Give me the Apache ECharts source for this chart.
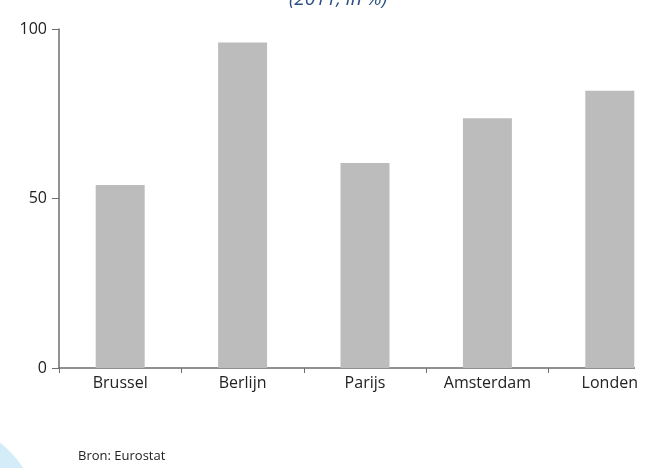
<!DOCTYPE html>
<html>
<head>
<meta charset="utf-8">
<script src="https://cdn.jsdelivr.net/npm/echarts@6/dist/echarts.min.js"></script>
<style>
html, body { margin: 0; padding: 0; background: #fff; }
#main { width: 647px; height: 468px; }
</style>
</head>
<body>
<div id="main"></div>
<script>
var steden = ['Brussel', 'Berlijn', 'Parijs', 'Amsterdam', 'Londen'];
var waarden = [54, 96, 60.5, 73.7, 81.8];
var yTicks = [0, 50, 100];

var dom = document.getElementById('main');
var myChart = echarts.init(dom);
var font = '"Open Sans", "Noto Sans", sans-serif';

var option = {
	backgroundColor: '#fff',
	animation: false,
	grid: { left: 59, top: 29, width: 612, height: 339, outerBoundsMode: 'none', containLabel: false },
	xAxis: {
		type: 'category',
		data: steden,
		boundaryGap: true,
		axisLine: { lineStyle: { color: '#6e6e6e', width: 1.5 } },
		axisTick: { show: true, length: 5, inside: false, lineStyle: { color: '#6e6e6e' } },
		axisLabel: { color: '#222', fontFamily: font, fontSize: 16, margin: 7 }
	},
	yAxis: {
		type: 'value',
		min: yTicks[0],
		max: yTicks[yTicks.length - 1],
		interval: yTicks[1] - yTicks[0],
		splitLine: { show: false },
		axisLine: { show: true, lineStyle: { color: '#6e6e6e', width: 1.5 } },
		axisTick: { show: true, length: 7, lineStyle: { color: '#6e6e6e' } },
		axisLabel: { color: '#222', fontFamily: font, fontSize: 16, margin: 12 }
	},
	series: [{
		type: 'bar',
		data: waarden,
		barWidth: 49,
		itemStyle: { color: '#bcbcbc' }
	}],
	graphic: [
		// wit vlak: as stopt bij laatste balk
		{ type: 'rect', shape: { x: 635, y: 360, width: 20, height: 14 }, style: { fill: '#fff' }, z: 100 },
		{ type: 'circle', shape: { cx: -70, cy: 530, r: 112 }, style: { fill: '#d4ecf8' }, z: 1 },
		{ type: 'text', x: 338, y: -10, style: { text: '(2011, in %)', fill: '#2a4f80', fontFamily: font, fontSize: 19, fontStyle: 'italic', align: 'center' } },
		{ type: 'text', x: 78, y: 450, style: { text: 'Bron: Eurostat', fill: '#222', fontFamily: font, fontSize: 13 } }
	]
};
myChart.setOption(option);
</script>
</body>
</html>
